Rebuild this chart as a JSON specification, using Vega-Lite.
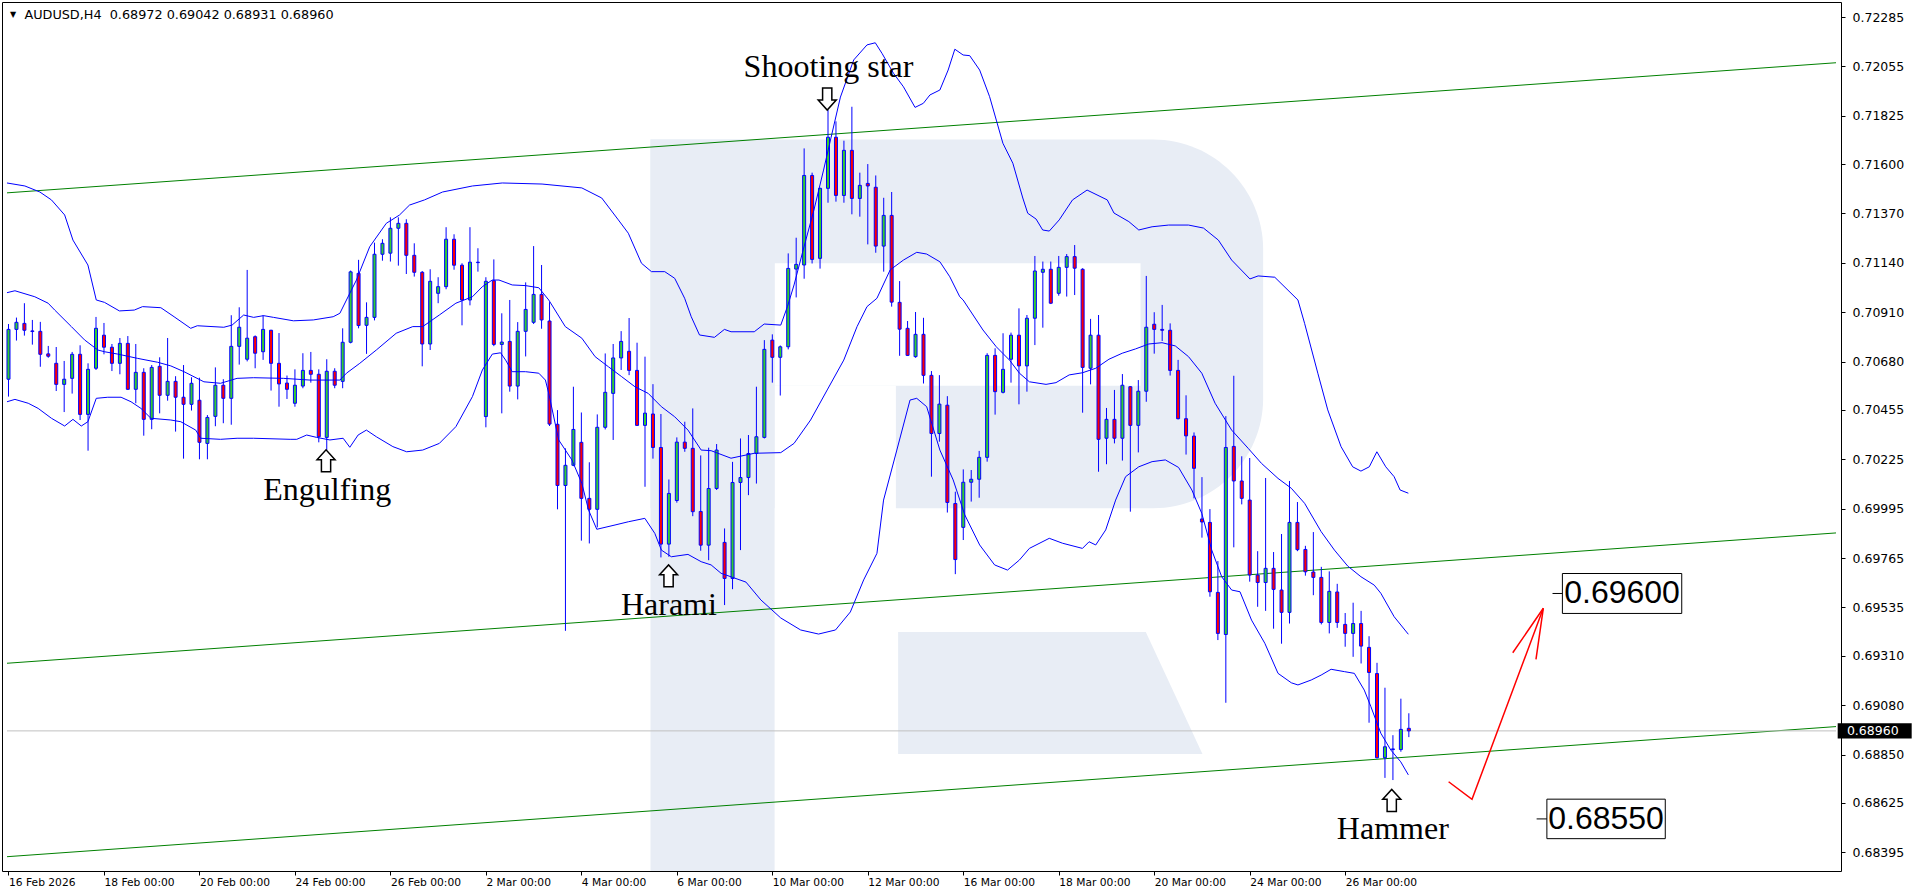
{
"$schema":"https://vega.github.io/schema/vega-lite/v6.json",
"width":1839,"height":869,
"autosize":{"type":"none"},
"padding":{"left":2,"top":2,"right":75,"bottom":25},
"background":"#ffffff",
"config":{"view":{"stroke":"#000000","strokeWidth":1}},
"datasets":{
"candles":[
{"i":0,"o":0.70598,"h":0.70855,"p":0.70517,"c":0.7083},{"i":1,"o":0.7083,"h":0.70885,"p":0.70778,"c":0.70863},{"i":2,"o":0.70858,"h":0.70952,"p":0.70801,"c":0.70826},{"i":3,"o":0.70823,"h":0.70874,"p":0.70759,"c":0.7082},{"i":4,"o":0.70821,"h":0.70865,"p":0.70656,"c":0.70714},{"i":5,"o":0.70716,"h":0.70753,"p":0.70698,"c":0.70705},{"i":6,"o":0.70672,"h":0.70748,"p":0.70543,"c":0.70574},{"i":7,"o":0.70574,"h":0.70683,"p":0.70445,"c":0.70598},{"i":8,"o":0.70602,"h":0.70725,"p":0.70531,"c":0.70714},{"i":9,"o":0.70714,"h":0.70756,"p":0.70408,"c":0.70434},
{"i":10,"o":0.70434,"h":0.70672,"p":0.70265,"c":0.70644},{"i":11,"o":0.70649,"h":0.70888,"p":0.70641,"c":0.70835},{"i":12,"o":0.70803,"h":0.7086,"p":0.70714,"c":0.70747},{"i":13,"o":0.70747,"h":0.70762,"p":0.70636,"c":0.70672},{"i":14,"o":0.70672,"h":0.7079,"p":0.70621,"c":0.70765},{"i":15,"o":0.70765,"h":0.70799,"p":0.70548,"c":0.70551},{"i":16,"o":0.70551,"h":0.70762,"p":0.70486,"c":0.7063},{"i":17,"o":0.7063,"h":0.70649,"p":0.70335,"c":0.70411},{"i":18,"o":0.70411,"h":0.70664,"p":0.70365,"c":0.70653},{"i":19,"o":0.70658,"h":0.707,"p":0.70439,"c":0.70523},
{"i":20,"o":0.70523,"h":0.7079,"p":0.70498,"c":0.70588},{"i":21,"o":0.70588,"h":0.70612,"p":0.70354,"c":0.70514},{"i":22,"o":0.70514,"h":0.70664,"p":0.70228,"c":0.70481},{"i":23,"o":0.70481,"h":0.70607,"p":0.70452,"c":0.70579},{"i":24,"o":0.705,"h":0.70605,"p":0.70225,"c":0.70304},{"i":25,"o":0.70299,"h":0.70431,"p":0.70225,"c":0.7042},{"i":26,"o":0.70425,"h":0.70653,"p":0.70379,"c":0.7057},{"i":27,"o":0.7057,"h":0.70598,"p":0.70393,"c":0.70509},{"i":28,"o":0.70509,"h":0.70896,"p":0.70386,"c":0.70751},{"i":29,"o":0.70751,"h":0.70933,"p":0.70666,"c":0.7084},
{"i":30,"o":0.70691,"h":0.71107,"p":0.70681,"c":0.70789},{"i":31,"o":0.70796,"h":0.70802,"p":0.70649,"c":0.70719},{"i":32,"o":0.70726,"h":0.70896,"p":0.70688,"c":0.7083},{"i":33,"o":0.70826,"h":0.70828,"p":0.70545,"c":0.70672},{"i":34,"o":0.70672,"h":0.70813,"p":0.7047,"c":0.70576},{"i":35,"o":0.7058,"h":0.70615,"p":0.70506,"c":0.70551},{"i":36,"o":0.70486,"h":0.70644,"p":0.7047,"c":0.7057},{"i":37,"o":0.70566,"h":0.70719,"p":0.70556,"c":0.70639},{"i":38,"o":0.70639,"h":0.70725,"p":0.70582,"c":0.70621},{"i":39,"o":0.70621,"h":0.70644,"p":0.70304,"c":0.7033},
{"i":40,"o":0.70327,"h":0.70691,"p":0.70268,"c":0.70635},{"i":41,"o":0.70635,"h":0.70649,"p":0.70556,"c":0.7057},{"i":42,"o":0.70588,"h":0.70835,"p":0.70556,"c":0.7077},{"i":43,"o":0.7077,"h":0.71104,"p":0.70765,"c":0.71098},{"i":44,"o":0.71091,"h":0.71154,"p":0.70835,"c":0.70848},{"i":45,"o":0.70849,"h":0.70956,"p":0.70716,"c":0.70886},{"i":46,"o":0.70886,"h":0.71234,"p":0.70872,"c":0.7118},{"i":47,"o":0.7118,"h":0.7125,"p":0.7115,"c":0.71231},{"i":48,"o":0.71185,"h":0.71352,"p":0.71146,"c":0.71301},{"i":49,"o":0.71301,"h":0.71352,"p":0.71127,"c":0.71324},
{"i":50,"o":0.71324,"h":0.71343,"p":0.71088,"c":0.71175},{"i":51,"o":0.71175,"h":0.71231,"p":0.71076,"c":0.71096},{"i":52,"o":0.71096,"h":0.71102,"p":0.70658,"c":0.70762},{"i":53,"o":0.70762,"h":0.7111,"p":0.70734,"c":0.71054},{"i":54,"o":0.70998,"h":0.71073,"p":0.70952,"c":0.71029},{"i":55,"o":0.71029,"h":0.71306,"p":0.71017,"c":0.7125},{"i":56,"o":0.7125,"h":0.71273,"p":0.71108,"c":0.71129},{"i":57,"o":0.71129,"h":0.71138,"p":0.70849,"c":0.70967},{"i":58,"o":0.70967,"h":0.71306,"p":0.70942,"c":0.71143},{"i":59,"o":0.71141,"h":0.71208,"p":0.71099,"c":0.71143},
{"i":60,"o":0.70424,"h":0.71073,"p":0.70374,"c":0.71054},{"i":61,"o":0.71057,"h":0.71156,"p":0.70752,"c":0.7076},{"i":62,"o":0.7076,"h":0.70905,"p":0.70439,"c":0.70771},{"i":63,"o":0.70774,"h":0.70967,"p":0.7054,"c":0.70566},{"i":64,"o":0.70566,"h":0.70864,"p":0.70504,"c":0.70821},{"i":65,"o":0.70821,"h":0.71049,"p":0.70704,"c":0.70923},{"i":66,"o":0.70863,"h":0.71218,"p":0.70855,"c":0.70993},{"i":67,"o":0.70993,"h":0.7113,"p":0.70833,"c":0.70874},{"i":68,"o":0.70869,"h":0.70957,"p":0.7038,"c":0.70389},{"i":69,"o":0.70388,"h":0.70454,"p":0.69992,"c":0.70103},
{"i":70,"o":0.70103,"h":0.70276,"p":0.69426,"c":0.70197},{"i":71,"o":0.70197,"h":0.70563,"p":0.70193,"c":0.70364},{"i":72,"o":0.70304,"h":0.70443,"p":0.69846,"c":0.70043},{"i":73,"o":0.70043,"h":0.70211,"p":0.69833,"c":0.69992},{"i":74,"o":0.69992,"h":0.70434,"p":0.69908,"c":0.70374},{"i":75,"o":0.70374,"h":0.70718,"p":0.70364,"c":0.70537},{"i":76,"o":0.70532,"h":0.70762,"p":0.70315,"c":0.70697},{"i":77,"o":0.70697,"h":0.70822,"p":0.70641,"c":0.70774},{"i":78,"o":0.70728,"h":0.70883,"p":0.70617,"c":0.70639},{"i":79,"o":0.70639,"h":0.70768,"p":0.7038,"c":0.70383},
{"i":80,"o":0.70383,"h":0.70703,"p":0.70097,"c":0.7044},{"i":81,"o":0.70436,"h":0.70575,"p":0.70228,"c":0.7028},{"i":82,"o":0.7028,"h":0.70436,"p":0.69768,"c":0.6983},{"i":83,"o":0.6983,"h":0.70131,"p":0.69771,"c":0.70066},{"i":84,"o":0.70033,"h":0.70327,"p":0.70023,"c":0.70305},{"i":85,"o":0.70305,"h":0.704,"p":0.7026,"c":0.70276},{"i":86,"o":0.70276,"h":0.70462,"p":0.6996,"c":0.69981},{"i":87,"o":0.69982,"h":0.70243,"p":0.69799,"c":0.69825},{"i":88,"o":0.69825,"h":0.70279,"p":0.69755,"c":0.70089},{"i":89,"o":0.70089,"h":0.70296,"p":0.70082,"c":0.70268},
{"i":90,"o":0.69838,"h":0.69903,"p":0.69546,"c":0.6967},{"i":91,"o":0.6967,"h":0.70213,"p":0.6962,"c":0.70117},{"i":92,"o":0.70117,"h":0.70322,"p":0.69802,"c":0.7014},{"i":93,"o":0.7014,"h":0.70338,"p":0.70058,"c":0.70252},{"i":94,"o":0.70252,"h":0.70563,"p":0.70112,"c":0.7033},{"i":95,"o":0.70327,"h":0.7078,"p":0.70322,"c":0.70737},{"i":96,"o":0.7078,"h":0.70807,"p":0.70582,"c":0.707},{"i":97,"o":0.707,"h":0.70755,"p":0.70522,"c":0.70749},{"i":98,"o":0.70749,"h":0.71184,"p":0.70737,"c":0.71114},{"i":99,"o":0.71111,"h":0.71257,"p":0.70979,"c":0.71133},
{"i":100,"o":0.7113,"h":0.71673,"p":0.71066,"c":0.71547},{"i":101,"o":0.71547,"h":0.7156,"p":0.71137,"c":0.71156},{"i":102,"o":0.71161,"h":0.7149,"p":0.71113,"c":0.71487},{"i":103,"o":0.71487,"h":0.71852,"p":0.7142,"c":0.71725},{"i":104,"o":0.71725,"h":0.71799,"p":0.71425,"c":0.71454},{"i":105,"o":0.71454,"h":0.71709,"p":0.7142,"c":0.71664},{"i":106,"o":0.71664,"h":0.71867,"p":0.71366,"c":0.7144},{"i":107,"o":0.7144,"h":0.7156,"p":0.71355,"c":0.71501},{"i":108,"o":0.7151,"h":0.716,"p":0.71226,"c":0.71498},{"i":109,"o":0.71492,"h":0.71547,"p":0.71187,"c":0.71218},
{"i":110,"o":0.71218,"h":0.71443,"p":0.71099,"c":0.71361},{"i":111,"o":0.71361,"h":0.7147,"p":0.70936,"c":0.70957},{"i":112,"o":0.70956,"h":0.71055,"p":0.70707,"c":0.70831},{"i":113,"o":0.70835,"h":0.70869,"p":0.70706,"c":0.70709},{"i":114,"o":0.70703,"h":0.70911,"p":0.70698,"c":0.70807},{"i":115,"o":0.70807,"h":0.70884,"p":0.70578,"c":0.70616},{"i":116,"o":0.70616,"h":0.70636,"p":0.70144,"c":0.70345},{"i":117,"o":0.70345,"h":0.70617,"p":0.70307,"c":0.70482},{"i":118,"o":0.70477,"h":0.70519,"p":0.69977,"c":0.70024},{"i":119,"o":0.70019,"h":0.70074,"p":0.6969,"c":0.69758},
{"i":120,"o":0.69908,"h":0.70178,"p":0.69849,"c":0.70118},{"i":121,"o":0.70118,"h":0.70175,"p":0.70028,"c":0.70132},{"i":122,"o":0.70132,"h":0.70264,"p":0.70046,"c":0.70234},{"i":123,"o":0.70234,"h":0.70719,"p":0.70214,"c":0.70709},{"i":124,"o":0.70709,"h":0.70742,"p":0.70433,"c":0.7054},{"i":125,"o":0.70537,"h":0.70812,"p":0.70532,"c":0.70644},{"i":126,"o":0.70691,"h":0.70815,"p":0.70582,"c":0.70803},{"i":127,"o":0.70803,"h":0.70928,"p":0.70481,"c":0.7066},{"i":128,"o":0.7066,"h":0.70897,"p":0.7054,"c":0.70882},{"i":129,"o":0.70882,"h":0.71172,"p":0.70757,"c":0.71102},
{"i":130,"o":0.71096,"h":0.71146,"p":0.70838,"c":0.7111},{"i":131,"o":0.7111,"h":0.71146,"p":0.70948,"c":0.70952},{"i":132,"o":0.70998,"h":0.71172,"p":0.70987,"c":0.71119},{"i":133,"o":0.71119,"h":0.71181,"p":0.70983,"c":0.71169},{"i":134,"o":0.71169,"h":0.71223,"p":0.7099,"c":0.71115},{"i":135,"o":0.7111,"h":0.71115,"p":0.70442,"c":0.70653},{"i":136,"o":0.70649,"h":0.70879,"p":0.70574,"c":0.70803},{"i":137,"o":0.70803,"h":0.70897,"p":0.70167,"c":0.70318},{"i":138,"o":0.70323,"h":0.70464,"p":0.70202,"c":0.70411},{"i":139,"o":0.70411,"h":0.70548,"p":0.70299,"c":0.70323},
{"i":140,"o":0.70323,"h":0.70622,"p":0.70219,"c":0.7057},{"i":141,"o":0.70563,"h":0.70566,"p":0.69981,"c":0.70383},{"i":142,"o":0.70383,"h":0.70594,"p":0.70257,"c":0.70542},{"i":143,"o":0.70542,"h":0.71079,"p":0.70493,"c":0.7084},{"i":144,"o":0.70854,"h":0.7091,"p":0.70717,"c":0.7083},{"i":145,"o":0.7083,"h":0.70944,"p":0.70776,"c":0.70826},{"i":146,"o":0.70826,"h":0.70858,"p":0.70615,"c":0.70639},{"i":147,"o":0.70639,"h":0.70688,"p":0.70411,"c":0.70414},{"i":148,"o":0.70414,"h":0.70523,"p":0.70247,"c":0.70334},{"i":149,"o":0.70333,"h":0.7035,"p":0.70043,"c":0.70183},
{"i":150,"o":0.69947,"h":0.70142,"p":0.6986,"c":0.69933},{"i":151,"o":0.69931,"h":0.69993,"p":0.69585,"c":0.69608},{"i":152,"o":0.69605,"h":0.69751,"p":0.69383,"c":0.69414},{"i":153,"o":0.69409,"h":0.70426,"p":0.69091,"c":0.7028},{"i":154,"o":0.70285,"h":0.70614,"p":0.69815,"c":0.70124},{"i":155,"o":0.70124,"h":0.70239,"p":0.70015,"c":0.70043},{"i":156,"o":0.70035,"h":0.70231,"p":0.69655,"c":0.69686},{"i":157,"o":0.69686,"h":0.69797,"p":0.69538,"c":0.69651},{"i":158,"o":0.69651,"h":0.70138,"p":0.69519,"c":0.69717},{"i":159,"o":0.69717,"h":0.69793,"p":0.69436,"c":0.69619},
{"i":160,"o":0.69616,"h":0.69877,"p":0.69366,"c":0.69512},{"i":161,"o":0.69512,"h":0.70124,"p":0.6946,"c":0.69931},{"i":162,"o":0.69931,"h":0.70026,"p":0.69797,"c":0.69804},{"i":163,"o":0.69805,"h":0.69822,"p":0.69683,"c":0.69701},{"i":164,"o":0.697,"h":0.69886,"p":0.69592,"c":0.69675},{"i":165,"o":0.69675,"h":0.69724,"p":0.69456,"c":0.69465},{"i":166,"o":0.69465,"h":0.69703,"p":0.69414,"c":0.6961},{"i":167,"o":0.69607,"h":0.69645,"p":0.6944,"c":0.69465},{"i":168,"o":0.69456,"h":0.69509,"p":0.69352,"c":0.69414},{"i":169,"o":0.69414,"h":0.69557,"p":0.69305,"c":0.6946},
{"i":170,"o":0.6946,"h":0.69519,"p":0.69274,"c":0.69355},{"i":171,"o":0.69349,"h":0.69401,"p":0.68998,"c":0.69232},{"i":172,"o":0.69227,"h":0.69277,"p":0.68832,"c":0.68835},{"i":173,"o":0.68835,"h":0.69161,"p":0.68741,"c":0.68886},{"i":174,"o":0.68873,"h":0.6894,"p":0.68731,"c":0.68876},{"i":175,"o":0.68873,"h":0.6911,"p":0.68863,"c":0.68967},{"i":176,"o":0.68972,"h":0.69042,"p":0.68931,"c":0.6896}
],
"bands":[
{"b":"u","i":-0.19,"p":0.71512},{"b":"u","i":2.06,"p":0.71498},{"b":"u","i":3.94,"p":0.7147},{"b":"u","i":5.4,"p":0.71433},{"b":"u","i":7.06,"p":0.71363},{"b":"u","i":8.1,"p":0.71246},{"b":"u","i":9.98,"p":0.7113},{"b":"u","i":11.03,"p":0.70967},{"b":"u","i":12.06,"p":0.70956},{"b":"u","i":13.94,"p":0.70916},{"b":"u","i":15.81,"p":0.7092},{"b":"u","i":16.85,"p":0.70936},{"b":"u","i":19.15,"p":0.70931},{"b":"u","i":20.81,"p":0.70889},{"b":"u","i":22.9,"p":0.70835},{"b":"u","i":23.73,"p":0.70847},{"b":"u","i":27.06,"p":0.7084},{"b":"u","i":28.1,"p":0.7085},{"b":"u","i":29.56,"p":0.70897},{"b":"u","i":30.81,"p":0.70886},{"b":"u","i":32.06,"p":0.70894},{"b":"u","i":33.31,"p":0.70886},{"b":"u","i":35.81,"p":0.7087},{"b":"u","i":38.31,"p":0.70874},{"b":"u","i":40.81,"p":0.70889},{"b":"u","i":41.65,"p":0.70905},{"b":"u","i":42.48,"p":0.70967},{"b":"u","i":43.73,"p":0.7106},{"b":"u","i":45.4,"p":0.71215},{"b":"u","i":47.48,"p":0.71324},{"b":"u","i":49.15,"p":0.71363},{"b":"u","i":50.4,"p":0.71409},{"b":"u","i":52.28,"p":0.71433},{"b":"u","i":54.56,"p":0.7147},{"b":"u","i":58.31,"p":0.71498},{"b":"u","i":62.06,"p":0.71512},{"b":"u","i":67.06,"p":0.71507},{"b":"u","i":72.06,"p":0.71489},{"b":"u","i":74.56,"p":0.71442},{"b":"u","i":76.65,"p":0.7134},{"b":"u","i":77.9,"p":0.71278},{"b":"u","i":79.56,"p":0.71138},{"b":"u","i":80.81,"p":0.71099},{"b":"u","i":82.48,"p":0.71099},{"b":"u","i":83.73,"p":0.71068},{"b":"u","i":84.98,"p":0.70975},{"b":"u","i":85.81,"p":0.70889},{"b":"u","i":86.85,"p":0.70804},{"b":"u","i":88.73,"p":0.70793},{"b":"u","i":89.98,"p":0.7083},{"b":"u","i":90.81,"p":0.70819},{"b":"u","i":93.73,"p":0.70819},{"b":"u","i":94.98,"p":0.70855},{"b":"u","i":97.06,"p":0.7085},{"b":"u","i":97.9,"p":0.70936},{"b":"u","i":98.73,"p":0.71037},{"b":"u","i":99.98,"p":0.71214},{"b":"u","i":101.23,"p":0.71386},{"b":"u","i":102.44,"p":0.71572},{"b":"u","i":103.31,"p":0.71712},{"b":"u","i":104.56,"p":0.71912},{"b":"u","i":106.23,"p":0.72085},{"b":"u","i":107.9,"p":0.72155},{"b":"u","i":108.94,"p":0.72165},{"b":"u","i":109.78,"p":0.72116},{"b":"u","i":111.23,"p":0.72023},{"b":"u","i":112.48,"p":0.7196},{"b":"u","i":113.94,"p":0.71864},{"b":"u","i":114.98,"p":0.71883},{"b":"u","i":115.81,"p":0.71922},{"b":"u","i":117.06,"p":0.71945},{"b":"u","i":118.1,"p":0.72038},{"b":"u","i":118.94,"p":0.72135},{"b":"u","i":119.98,"p":0.72108},{"b":"u","i":120.81,"p":0.72105},{"b":"u","i":122.06,"p":0.72038},{"b":"u","i":123.31,"p":0.71914},{"b":"u","i":124.15,"p":0.71805},{"b":"u","i":124.98,"p":0.71697},{"b":"u","i":126.23,"p":0.71604},{"b":"u","i":127.48,"p":0.71442},{"b":"u","i":128.1,"p":0.71371},{"b":"u","i":129.15,"p":0.71344},{"b":"u","i":129.98,"p":0.71293},{"b":"u","i":130.81,"p":0.71288},{"b":"u","i":132.06,"p":0.7134},{"b":"u","i":133.73,"p":0.71433},{"b":"u","i":135.56,"p":0.71479},{"b":"u","i":138.1,"p":0.71433},{"b":"u","i":138.94,"p":0.71372},{"b":"u","i":140.81,"p":0.71332},{"b":"u","i":142.06,"p":0.71293},{"b":"u","i":143.73,"p":0.71308},{"b":"u","i":145.81,"p":0.71316},{"b":"u","i":148.31,"p":0.71316},{"b":"u","i":150.19,"p":0.71302},{"b":"u","i":152.06,"p":0.71246},{"b":"u","i":153.73,"p":0.71153},{"b":"u","i":156.03,"p":0.71065},{"b":"u","i":157.06,"p":0.71079},{"b":"u","i":159.15,"p":0.71073},{"b":"u","i":162.06,"p":0.70967},{"b":"u","i":162.9,"p":0.70858},{"b":"u","i":164.56,"p":0.70626},{"b":"u","i":165.81,"p":0.70455},{"b":"u","i":167.48,"p":0.70284},{"b":"u","i":168.94,"p":0.7019},{"b":"u","i":169.98,"p":0.7017},{"b":"u","i":171.03,"p":0.7019},{"b":"u","i":171.98,"p":0.7026},{"b":"u","i":173.1,"p":0.7019},{"b":"u","i":174.15,"p":0.70144},{"b":"u","i":174.9,"p":0.70082},{"b":"u","i":175.94,"p":0.70067},
{"b":"m","i":-0.19,"p":0.71001},{"b":"m","i":0.81,"p":0.7101},{"b":"m","i":3.31,"p":0.70982},{"b":"m","i":4.98,"p":0.70952},{"b":"m","i":5.81,"p":0.7092},{"b":"m","i":7.9,"p":0.70843},{"b":"m","i":9.56,"p":0.70781},{"b":"m","i":11.23,"p":0.70734},{"b":"m","i":12.06,"p":0.70726},{"b":"m","i":13.73,"p":0.70715},{"b":"m","i":16.23,"p":0.70695},{"b":"m","i":18.73,"p":0.70677},{"b":"m","i":20.4,"p":0.7066},{"b":"m","i":22.06,"p":0.70633},{"b":"m","i":24.56,"p":0.70586},{"b":"m","i":26.65,"p":0.70579},{"b":"m","i":28.73,"p":0.70602},{"b":"m","i":30.81,"p":0.70605},{"b":"m","i":34.56,"p":0.70602},{"b":"m","i":37.9,"p":0.70594},{"b":"m","i":41.65,"p":0.70594},{"b":"m","i":42.48,"p":0.70626},{"b":"m","i":44.15,"p":0.70672},{"b":"m","i":46.23,"p":0.70734},{"b":"m","i":48.73,"p":0.70812},{"b":"m","i":50.81,"p":0.70843},{"b":"m","i":52.06,"p":0.70843},{"b":"m","i":54.15,"p":0.70897},{"b":"m","i":56.23,"p":0.70952},{"b":"m","i":58.31,"p":0.70982},{"b":"m","i":59.56,"p":0.71029},{"b":"m","i":60.81,"p":0.7106},{"b":"m","i":61.65,"p":0.7106},{"b":"m","i":63.31,"p":0.71037},{"b":"m","i":64.98,"p":0.71034},{"b":"m","i":66.65,"p":0.71024},{"b":"m","i":67.9,"p":0.70967},{"b":"m","i":69.98,"p":0.70843},{"b":"m","i":72.06,"p":0.70789},{"b":"m","i":73.73,"p":0.70703},{"b":"m","i":75.4,"p":0.70656},{"b":"m","i":77.06,"p":0.7061},{"b":"m","i":78.73,"p":0.70563},{"b":"m","i":80.4,"p":0.70532},{"b":"m","i":82.06,"p":0.7047},{"b":"m","i":83.73,"p":0.70423},{"b":"m","i":85.4,"p":0.70361},{"b":"m","i":87.06,"p":0.70268},{"b":"m","i":88.31,"p":0.70265},{"b":"m","i":90.81,"p":0.7023},{"b":"m","i":93.73,"p":0.70253},{"b":"m","i":97.06,"p":0.70256},{"b":"m","i":98.73,"p":0.70299},{"b":"m","i":100.81,"p":0.70408},{"b":"m","i":102.9,"p":0.70548},{"b":"m","i":104.98,"p":0.70687},{"b":"m","i":106.65,"p":0.70843},{"b":"m","i":107.9,"p":0.70936},{"b":"m","i":109.15,"p":0.70975},{"b":"m","i":110.81,"p":0.71107},{"b":"m","i":112.48,"p":0.71153},{"b":"m","i":114.15,"p":0.71189},{"b":"m","i":115.4,"p":0.71181},{"b":"m","i":117.06,"p":0.71145},{"b":"m","i":118.31,"p":0.71075},{"b":"m","i":119.56,"p":0.70982},{"b":"m","i":119.98,"p":0.70967},{"b":"m","i":122.48,"p":0.70827},{"b":"m","i":124.15,"p":0.70749},{"b":"m","i":125.81,"p":0.70687},{"b":"m","i":127.06,"p":0.70626},{"b":"m","i":128.31,"p":0.70586},{"b":"m","i":130.4,"p":0.70574},{"b":"m","i":131.65,"p":0.70582},{"b":"m","i":133.31,"p":0.70618},{"b":"m","i":134.98,"p":0.70628},{"b":"m","i":136.65,"p":0.70649},{"b":"m","i":138.31,"p":0.70691},{"b":"m","i":139.98,"p":0.70719},{"b":"m","i":141.65,"p":0.70739},{"b":"m","i":143.31,"p":0.70762},{"b":"m","i":144.98,"p":0.70768},{"b":"m","i":146.65,"p":0.70753},{"b":"m","i":148.31,"p":0.70703},{"b":"m","i":149.98,"p":0.70626},{"b":"m","i":151.65,"p":0.70486},{"b":"m","i":153.73,"p":0.70361},{"b":"m","i":155.81,"p":0.70276},{"b":"m","i":157.48,"p":0.70206},{"b":"m","i":159.56,"p":0.70136},{"b":"m","i":161.23,"p":0.7009},{"b":"m","i":162.9,"p":0.7002},{"b":"m","i":164.98,"p":0.69888},{"b":"m","i":166.65,"p":0.69802},{"b":"m","i":168.31,"p":0.69728},{"b":"m","i":169.98,"p":0.69678},{"b":"m","i":171.65,"p":0.69639},{"b":"m","i":172.48,"p":0.69601},{"b":"m","i":174.15,"p":0.69492},{"b":"m","i":175.94,"p":0.6941},
{"b":"w","i":-0.19,"p":0.70493},{"b":"w","i":0.81,"p":0.70504},{"b":"w","i":2.48,"p":0.70486},{"b":"w","i":3.73,"p":0.70462},{"b":"w","i":5.4,"p":0.70416},{"b":"w","i":7.06,"p":0.7038},{"b":"w","i":8.1,"p":0.70411},{"b":"w","i":9.15,"p":0.7038},{"b":"w","i":9.98,"p":0.704},{"b":"w","i":11.03,"p":0.70509},{"b":"w","i":12.48,"p":0.70514},{"b":"w","i":14.15,"p":0.70514},{"b":"w","i":15.4,"p":0.70493},{"b":"w","i":16.65,"p":0.70462},{"b":"w","i":17.9,"p":0.70416},{"b":"w","i":20.4,"p":0.70408},{"b":"w","i":21.65,"p":0.704},{"b":"w","i":23.53,"p":0.70361},{"b":"w","i":24.15,"p":0.70323},{"b":"w","i":26.65,"p":0.70318},{"b":"w","i":28.73,"p":0.70323},{"b":"w","i":30.81,"p":0.70323},{"b":"w","i":35.4,"p":0.70318},{"b":"w","i":36.23,"p":0.70318},{"b":"w","i":37.48,"p":0.70338},{"b":"w","i":38.73,"p":0.70327},{"b":"w","i":40.4,"p":0.70315},{"b":"w","i":42.06,"p":0.70323},{"b":"w","i":42.9,"p":0.70281},{"b":"w","i":43.94,"p":0.70338},{"b":"w","i":44.98,"p":0.70361},{"b":"w","i":46.23,"p":0.7033},{"b":"w","i":48.31,"p":0.70284},{"b":"w","i":50.04,"p":0.7026},{"b":"w","i":52.06,"p":0.70268},{"b":"w","i":54.15,"p":0.70299},{"b":"w","i":56.23,"p":0.70377},{"b":"w","i":58.31,"p":0.70517},{"b":"w","i":59.56,"p":0.70641},{"b":"w","i":60.81,"p":0.70715},{"b":"w","i":61.85,"p":0.70721},{"b":"w","i":62.48,"p":0.70687},{"b":"w","i":63.31,"p":0.70633},{"b":"w","i":64.98,"p":0.70633},{"b":"w","i":66.65,"p":0.70626},{"b":"w","i":67.48,"p":0.70594},{"b":"w","i":67.9,"p":0.70532},{"b":"w","i":69.15,"p":0.70315},{"b":"w","i":70.81,"p":0.70222},{"b":"w","i":72.06,"p":0.70113},{"b":"w","i":72.9,"p":0.69989},{"b":"w","i":73.94,"p":0.69899},{"b":"w","i":76.23,"p":0.69919},{"b":"w","i":77.9,"p":0.69934},{"b":"w","i":79.98,"p":0.6995},{"b":"w","i":81.23,"p":0.6988},{"b":"w","i":82.06,"p":0.69802},{"b":"w","i":83.31,"p":0.69771},{"b":"w","i":85.4,"p":0.69782},{"b":"w","i":87.06,"p":0.69748},{"b":"w","i":88.31,"p":0.69733},{"b":"w","i":89.56,"p":0.69694},{"b":"w","i":92.69,"p":0.69653},{"b":"w","i":94.56,"p":0.6957},{"b":"w","i":97.06,"p":0.69486},{"b":"w","i":99.56,"p":0.6943},{"b":"w","i":101.81,"p":0.69411},{"b":"w","i":103.94,"p":0.6943},{"b":"w","i":105.81,"p":0.69514},{"b":"w","i":107.48,"p":0.69663},{"b":"w","i":109.15,"p":0.69787},{"b":"w","i":109.98,"p":0.70035},{"b":"w","i":111.65,"p":0.70268},{"b":"w","i":113.31,"p":0.70501},{"b":"w","i":114.15,"p":0.70509},{"b":"w","i":115.4,"p":0.7047},{"b":"w","i":117.06,"p":0.70268},{"b":"w","i":118.73,"p":0.70129},{"b":"w","i":120.19,"p":0.69966},{"b":"w","i":122.06,"p":0.69826},{"b":"w","i":123.94,"p":0.69733},{"b":"w","i":125.56,"p":0.69709},{"b":"w","i":127.06,"p":0.69756},{"b":"w","i":128.31,"p":0.6981},{"b":"w","i":130.81,"p":0.69857},{"b":"w","i":132.48,"p":0.69834},{"b":"w","i":134.98,"p":0.6981},{"b":"w","i":135.81,"p":0.69841},{"b":"w","i":136.65,"p":0.69826},{"b":"w","i":137.9,"p":0.69896},{"b":"w","i":139.15,"p":0.70035},{"b":"w","i":140.4,"p":0.70144},{"b":"w","i":142.06,"p":0.7019},{"b":"w","i":143.73,"p":0.70214},{"b":"w","i":145.4,"p":0.70222},{"b":"w","i":147.06,"p":0.70187},{"b":"w","i":148.73,"p":0.70082},{"b":"w","i":149.98,"p":0.69973},{"b":"w","i":151.23,"p":0.69802},{"b":"w","i":152.48,"p":0.69678},{"b":"w","i":153.73,"p":0.69616},{"b":"w","i":154.78,"p":0.69608},{"b":"w","i":156.23,"p":0.69476},{"b":"w","i":157.9,"p":0.69368},{"b":"w","i":159.56,"p":0.69228},{"b":"w","i":161.23,"p":0.69184},{"b":"w","i":162.06,"p":0.69174},{"b":"w","i":163.73,"p":0.69197},{"b":"w","i":164.98,"p":0.6922},{"b":"w","i":166.23,"p":0.69247},{"b":"w","i":167.9,"p":0.69236},{"b":"w","i":169.15,"p":0.69228},{"b":"w","i":170.4,"p":0.6915},{"b":"w","i":171.23,"p":0.69073},{"b":"w","i":172.48,"p":0.68949},{"b":"w","i":173.73,"p":0.68871},{"b":"w","i":174.98,"p":0.68816},{"b":"w","i":175.94,"p":0.68755}
]
},
"encoding":{
 "x":{"field":"i","type":"quantitative","scale":{"domain":[-0.1875,229.6875],"nice":false,"zero":false},
   "axis":{"orient":"bottom","title":null,"grid":false,"domain":false,"values":[0,12,24,36,48,60,72,84,96,108,120,132,144,156,168],
   "labelExpr":"['16 Feb 2026','18 Feb 00:00','20 Feb 00:00','24 Feb 00:00','26 Feb 00:00','2 Mar 00:00','4 Mar 00:00','6 Mar 00:00','10 Mar 00:00','12 Mar 00:00','16 Mar 00:00','18 Mar 00:00','20 Mar 00:00','24 Mar 00:00','26 Mar 00:00'][round(datum.value/12)]",
   "tickSize":4,"tickColor":"#000000","labelAlign":"left","labelBaseline":"top","labelPadding":2,"labelFont":"DejaVu Sans","labelFontSize":10.7,"labelColor":"#000000","labelOverlap":false,"labelFlush":false,"labelBound":false}},
 "y":{"field":"p","type":"quantitative","scale":{"domain":[0.683074,0.723549],"nice":false,"zero":false},
   "axis":{"orient":"right","title":null,"grid":false,"domain":false,"values":[0.72285,0.72055,0.71825,0.716,0.7137,0.7114,0.7091,0.7068,0.70455,0.70225,0.69995,0.69765,0.69535,0.6931,0.6908,0.6885,0.68625,0.68395],
   "format":".5f","tickSize":4,"tickColor":"#000000","labelPadding":7,"labelFont":"DejaVu Sans","labelFontSize":12.5,"labelColor":"#000000","labelOverlap":false,"labelFlush":false,"labelBaseline":"middle"}}
},
"layer":[
{"data":{"values":[{"i":80.69,"i2":157.69,"p":0.71714,"p2":0.69997}]},
 "mark":{"type":"rect","fill":"#e8edf5","cornerRadiusTopRight":110,"cornerRadiusBottomRight":110},
 "encoding":{"x2":{"field":"i2"},"y2":{"field":"p2"}}},
{"data":{"values":[{"i":96.29,"i2":142.28,"p":0.71138,"p2":0.70568},{"i":96.29,"i2":111.53,"p":0.70568,"p2":0.6999}]},
 "mark":{"type":"rect","fill":"#ffffff"},
 "encoding":{"x2":{"field":"i2"},"y2":{"field":"p2"}}},
{"data":{"values":[{"i":80.69,"i2":96.29,"p":0.71714,"p2":0.682}]},
 "mark":{"type":"rect","fill":"#e8edf5","clip":true},
 "encoding":{"x2":{"field":"i2"},"y2":{"field":"p2"}}},
{"data":{"values":[{"i":111.81,"p":0.69421,"p2":0.68852},{"i":142.94,"p":0.69421,"p2":0.68852},{"i":150.06,"p":0.68852,"p2":0.68852}]},
 "mark":{"type":"area","fill":"#e8edf5","orient":"vertical"},
 "encoding":{"y2":{"field":"p2"}}},
{"data":{"values":[{"ln":"a","i":-0.1875,"p":0.71466},{"ln":"a","i":229.6875,"p":0.72072},{"ln":"b","i":-0.1875,"p":0.69275},{"ln":"b","i":229.6875,"p":0.69882},{"ln":"c","i":-0.1875,"p":0.68374},{"ln":"c","i":229.6875,"p":0.6898}]},
 "mark":{"type":"line","color":"#008000","strokeWidth":1,"clip":true},
 "encoding":{"detail":{"field":"ln"}}},
{"data":{"values":[{"i":-0.1875,"p":0.6896},{"i":229.6875,"p":0.6896}]},
 "mark":{"type":"line","color":"#c0c0c0","strokeWidth":1},
 "encoding":{}},
{"data":{"name":"candles"},
 "mark":{"type":"rule","color":"#0000ff","strokeWidth":1},
 "encoding":{"y2":{"field":"h"}}},
{"data":{"name":"candles"},
 "mark":{"type":"bar","size":3,"stroke":"#0000ff","strokeWidth":1},
 "encoding":{
  "y":{"field":"o","type":"quantitative","scale":{"domain":[0.683074,0.723549],"nice":false,"zero":false},
   "axis":{"orient":"right","title":null,"grid":false,"domain":false,"values":[0.72285,0.72055,0.71825,0.716,0.7137,0.7114,0.7091,0.7068,0.70455,0.70225,0.69995,0.69765,0.69535,0.6931,0.6908,0.6885,0.68625,0.68395],
   "format":".5f","tickSize":4,"tickColor":"#000000","labelPadding":7,"labelFont":"DejaVu Sans","labelFontSize":12.5,"labelColor":"#000000","labelOverlap":false,"labelFlush":false,"labelBaseline":"middle"}},
  "y2":{"field":"c"},
  "fill":{"condition":{"test":"datum.c >= datum.o","value":"#32cd32"},"value":"#ff0000"}}},
{"data":{"name":"bands"},
 "mark":{"type":"line","color":"#0000ff","strokeWidth":1},
 "encoding":{"detail":{"field":"b"}}},
{"data":{"values":[{"s":"a","o":1,"i":181.0,"p":0.68723},{"s":"a","o":2,"i":183.94,"p":0.68641},{"s":"a","o":3,"i":192.9,"p":0.69531},{"s":"b","o":1,"i":189.06,"p":0.69324},{"s":"b","o":2,"i":192.9,"p":0.69531},{"s":"b","o":3,"i":191.98,"p":0.69293}]},
 "mark":{"type":"line","color":"#ff0000","strokeWidth":1.5},
 "encoding":{"detail":{"field":"s"},"order":{"field":"o"}}},
{"data":{"values":[{"d":"down","i":102.9,"p":0.71903},{"d":"up","i":39.91,"p":0.70218},{"d":"up","i":82.96,"p":0.69682},{"d":"up","i":173.85,"p":0.68636}]},
 "mark":{"type":"point","filled":true,"fill":"#ffffff","stroke":"#000000","strokeWidth":1.5,"size":484,"opacity":1},
 "encoding":{"shape":{"field":"d","type":"nominal","legend":null,"scale":{"domain":["up","down"],"range":["M -0.42 1 L 0.42 1 L 0.42 -0.1 L 0.82 -0.1 L 0 -1 L -0.82 -0.1 L -0.42 -0.1 Z","M -0.42 -1 L 0.42 -1 L 0.42 0.1 L 0.82 0.1 L 0 1 L -0.82 0.1 L -0.42 0.1 Z"]}}}},
{"data":{"values":[{"t":"Shooting star","i":103.06,"p":0.72007},{"t":"Engulfing","i":40.06,"p":0.70036},{"t":"Harami","i":83.0,"p":0.695},{"t":"Hammer","i":173.99,"p":0.68455}]},
 "mark":{"type":"text","font":"Liberation Serif","fontSize":32,"color":"#000000","align":"center","baseline":"alphabetic"},
 "encoding":{"text":{"field":"t"}}},
{"data":{"values":[{"i":195.3,"i2":210.3,"p":0.69693,"p2":0.69507},{"i":193.35,"i2":208.23,"p":0.68642,"p2":0.68458}]},
 "mark":{"type":"rect","fill":"#ffffff","stroke":"#000000","strokeWidth":1},
 "encoding":{"x2":{"field":"i2"},"y2":{"field":"p2"}}},
{"data":{"values":[{"i":194.06,"i2":195.3,"p":0.696},{"i":192.06,"i2":193.35,"p":0.6855}]},
 "mark":{"type":"rule","color":"#000000","strokeWidth":1},
 "encoding":{"x2":{"field":"i2"}}},
{"data":{"values":[{"t":"0.69600","i":202.8,"p":0.696},{"t":"0.68550","i":200.79,"p":0.6855}]},
 "mark":{"type":"text","font":"Liberation Sans","fontSize":32,"color":"#000000","align":"center","baseline":"middle"},
 "encoding":{"text":{"field":"t"}}},
{"data":{"values":[{"t":"▼","i":0.2,"p":0.72296,"f":8},{"t":"AUDUSD,H4\u00a0 0.68972 0.69042 0.68931 0.68960","i":2.0,"p":0.72294,"f":12.8}]},
 "mark":{"type":"text","font":"DejaVu Sans","color":"#000000","align":"left","baseline":"middle"},
 "encoding":{"text":{"field":"t"},"size":{"field":"f","type":"quantitative","scale":null}}},
{"data":{"values":[{"i":229.9,"i2":239.2,"p":0.68995,"p2":0.68925}]},
 "mark":{"type":"rect","fill":"#000000"},
 "encoding":{"x2":{"field":"i2"},"y2":{"field":"p2"}}},
{"data":{"values":[{"t":"0.68960","i":231.06,"p":0.6896}]},
 "mark":{"type":"text","font":"DejaVu Sans","fontSize":12.5,"color":"#ffffff","align":"left","baseline":"middle"},
 "encoding":{"text":{"field":"t"}}}
]
}
